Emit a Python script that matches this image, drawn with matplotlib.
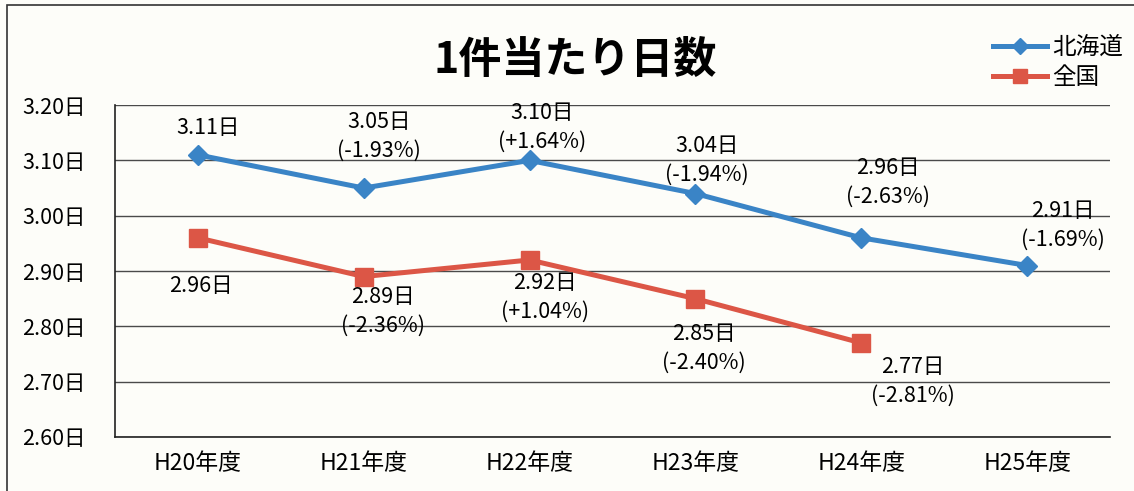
import matplotlib.pyplot as plt
from matplotlib.patches import Rectangle

plt.rcParams['font.family'] = ['Noto Sans CJK JP', 'DejaVu Sans']

years = ['H20年度', 'H21年度', 'H22年度', 'H23年度', 'H24年度', 'H25年度']
hokkaido = [3.11, 3.05, 3.10, 3.04, 2.96, 2.91]
hokkaido_pct = [None, '-1.93%', '+1.64%', '-1.94%', '-2.63%', '-1.69%']
zenkoku = [2.96, 2.89, 2.92, 2.85, 2.77]
zenkoku_pct = [None, '-2.36%', '+1.04%', '-2.40%', '-2.81%']

blue = '#3a84c6'
red = '#dc5646'

fig = plt.figure(figsize=(11.34, 4.91), dpi=100, facecolor='#fdfdf9')
ax = fig.add_axes([0.1014, 0.110, 0.8775, 0.676])
ax.set_facecolor('#fdfdf9')

# outer frame of the chart
fig.patches.append(Rectangle((0.006, -0.05), 1.05, 1.04, transform=fig.transFigure,
                             fill=False, edgecolor='#333333', linewidth=1.2))

x = list(range(len(years)))
ax.plot(x, hokkaido, color=blue, lw=3.6, marker='D', markersize=10, label='北海道', zorder=3)
ax.plot(x[:len(zenkoku)], zenkoku, color=red, lw=3.6, marker='s', markersize=12.5, label='全国', zorder=3)

ax.set_xlim(-0.5, len(years) - 0.5)
ax.set_ylim(2.60, 3.20)
ax.set_yticks([2.60, 2.70, 2.80, 2.90, 3.00, 3.10, 3.20])
ax.set_yticklabels([f'{v:.2f}日' for v in ax.get_yticks()], fontsize=15.5)
ax.set_xticks(x)
ax.set_xticklabels(years, fontsize=16.5)
ax.tick_params(axis='y', length=0, pad=21)
ax.tick_params(axis='x', length=0, pad=11)
ax.grid(axis='y', color='#4a4a4a', lw=1)
ax.set_axisbelow(True)
for s in ['top', 'right']:
    ax.spines[s].set_visible(False)
for s in ['left', 'bottom']:
    ax.spines[s].set_color('#222222')
    ax.spines[s].set_linewidth(1.2)

# data labels: Hokkaido above, nationwide below (offsets to block centre)
h_off = [(7, 19), (11, 37), (9, 24), (8, 24), (19, 40), (26, 29)]
for i, v in enumerate(hokkaido):
    txt = f'{v:.2f}日' if hokkaido_pct[i] is None else f'{v:.2f}日\n({hokkaido_pct[i]})'
    ax.annotate(txt, (x[i], v), xytext=h_off[i], textcoords='offset points',
                ha='center', va='center', fontsize=15.5, linespacing=1.4)
z_off = [(2, -35), (14, -25), (11, -27), (6, -36), (37, -28)]
for i, v in enumerate(zenkoku):
    txt = f'{v:.2f}日' if zenkoku_pct[i] is None else f'{v:.2f}日\n({zenkoku_pct[i]})'
    ax.annotate(txt, (x[i], v), xytext=z_off[i], textcoords='offset points',
                ha='center', va='center', fontsize=15.5, linespacing=1.4)

fig.text(0.507, 0.877, '1件当たり日数', ha='center', va='center',
         fontsize=31, fontweight='bold')
fig.legend(loc='upper left', bbox_to_anchor=(993 / 1134, 1 - 36 / 491), frameon=False,
           fontsize=17, handlelength=2.3, labelspacing=0.3, handletextpad=0.2,
           borderpad=0, borderaxespad=0, markerscale=0.8)

fig.savefig('out.png', dpi=100, facecolor=fig.get_facecolor())
